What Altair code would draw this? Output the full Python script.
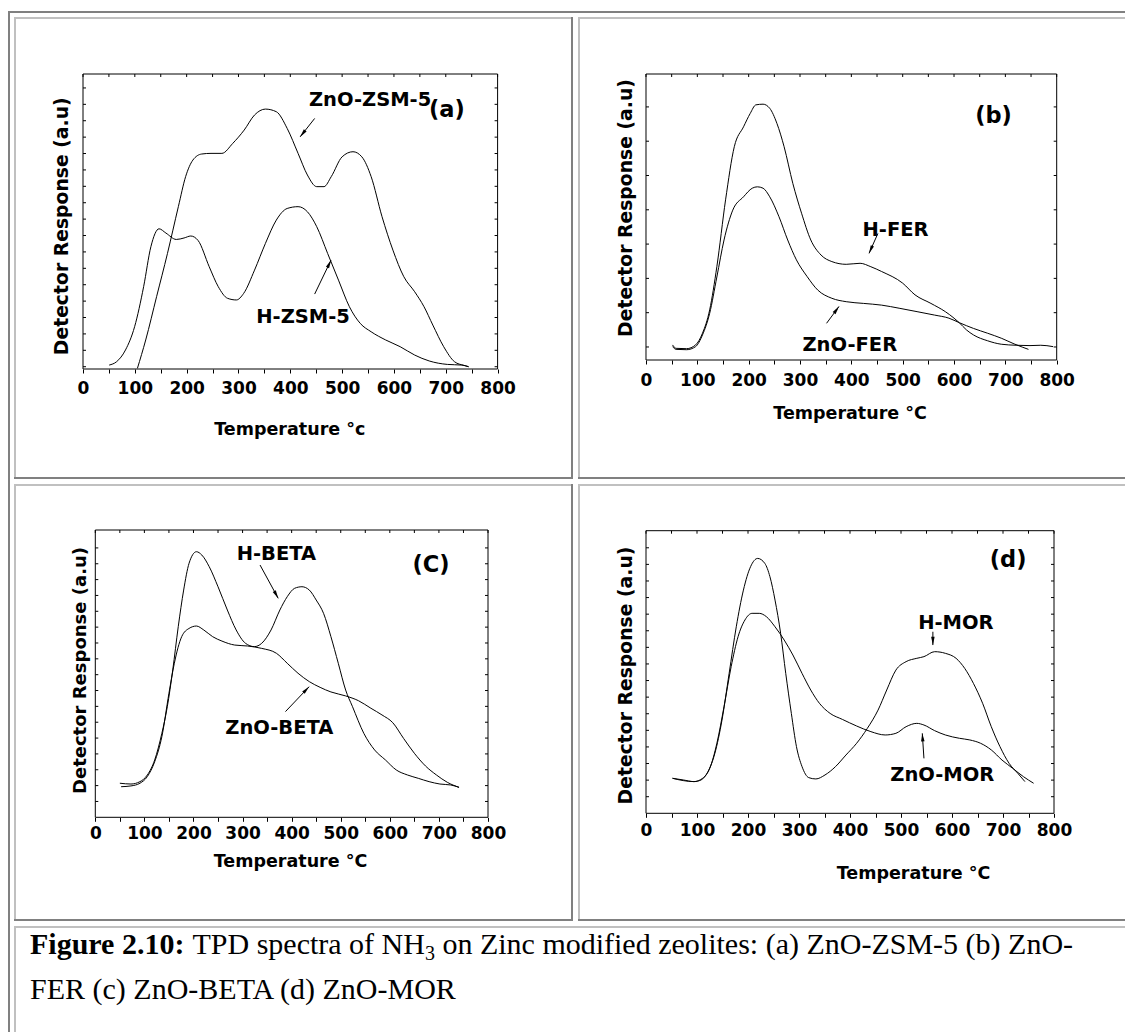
import math
import altair as alt
import pandas as pd

# ---------------- data ----------------
# (a) ZSM-5
A_ZNO_T = [105, 121, 142, 163, 184, 198, 212, 229, 247, 268, 289, 311, 331, 352, 373, 394, 415, 433, 451, 465,
           479, 500, 521, 538, 556, 577, 598, 619, 640, 658, 675, 696, 717, 735, 744]
A_ZNO_R = [-0.1, 1.63, 4.27, 6.91, 9.76, 11.59, 12.60, 12.97, 13.01, 13.01, 13.62, 14.43, 15.35, 15.71, 15.55,
           14.53, 13.01, 11.69, 10.98, 10.98, 11.59, 12.80, 13.11, 12.80, 11.59, 9.15, 7.11, 5.49, 4.57, 3.66,
           2.54, 1.22, 0.30, 0.08, 0.0]
A_H_T = [50.5, 64.6, 82, 99.6, 117, 131, 146.7, 160, 180, 195, 208, 222, 243.5, 261, 279, 296, 310, 331, 352,
         373, 394, 415, 433, 451, 472, 493, 514, 535, 556, 584, 612, 640, 668, 703, 731, 744]
A_H_R = [0.10, 0.30, 1.02, 2.44, 4.88, 7.32, 8.41, 8.15, 7.76, 7.85, 7.97, 7.70, 6.10, 4.88, 4.17, 4.07, 4.47,
         5.89, 7.52, 8.94, 9.65, 9.76, 9.45, 8.54, 6.91, 5.28, 3.66, 2.64, 2.13, 1.63, 1.22, 0.71, 0.35, 0.14,
         0.10, 0.0]

# (b) FER
B_H_T = [51.7, 58.6, 79, 96.6, 110, 124, 138, 155, 172, 190, 203, 214, 228, 241, 255, 269, 286, 303, 321, 341,
         362, 390, 417, 438, 459, 500, 524, 555, 583, 600, 610, 624, 638, 665.5, 692, 721, 748, 769, 793]
B_H_R = [0.06, -0.04, -0.05, 0.06, 0.40, 1.08, 2.34, 4.29, 5.84, 6.42, 6.81, 7.06, 7.08, 6.96, 6.52, 5.84, 4.77,
         3.90, 3.12, 2.68, 2.49, 2.41, 2.44, 2.34, 2.20, 1.86, 1.52, 1.27, 1.03, 0.84, 0.71, 0.50, 0.35, 0.18,
         0.08, 0.05, 0.04, 0.05, 0.01]
B_ZNO_T = [51.7, 58.6, 79, 96.6, 110, 124, 138, 152, 169, 190, 207, 217, 228, 241, 259, 276, 293, 314, 334.5,
           362, 390, 424, 459, 493, 528, 562, 590, 610, 638, 665.5, 693, 717, 734, 745]
B_ZNO_R = [0.01, -0.07, -0.08, 0.01, 0.35, 0.98, 2.04, 3.12, 3.99, 4.38, 4.63, 4.67, 4.63, 4.38, 3.80, 3.12,
           2.54, 2.05, 1.66, 1.42, 1.32, 1.27, 1.22, 1.13, 1.03, 0.93, 0.84, 0.71, 0.54, 0.40, 0.25, 0.09,
           -0.01, -0.07]

# (c) BETA
C_H_T = [50, 72.6, 91, 106, 121, 135.6, 146.7, 157.8, 169, 180, 191, 206, 217, 232, 250, 269, 287, 306, 324,
         339, 358, 376, 391, 406, 421, 436, 450, 465, 480, 495, 510, 524, 547, 569, 591, 613, 636, 658, 680,
         702, 724, 741]
C_H_R = [2.15, 2.10, 2.25, 2.67, 3.62, 5.30, 6.98, 9.30, 12.03, 14.34, 16.03, 16.76, 16.55, 15.82, 14.55,
         13.08, 11.82, 10.98, 10.77, 10.98, 11.82, 13.08, 13.92, 14.45, 14.55, 14.34, 13.71, 12.87, 11.40,
         9.72, 8.03, 6.98, 5.30, 4.25, 3.62, 2.99, 2.67, 2.46, 2.25, 2.10, 2.04, 1.89]
C_ZNO_T = [52.6, 72.6, 91, 106, 121, 135.6, 150, 161, 176, 191, 206, 221, 239, 258, 284, 310, 339, 369, 391,
           413, 436, 458, 480, 510, 536, 561.5, 584, 606, 628, 650, 672.6, 695, 717, 741]
C_ZNO_R = [1.93, 1.98, 2.15, 2.57, 3.51, 5.09, 7.82, 9.72, 11.40, 11.92, 12.07, 11.82, 11.40, 11.12, 10.87,
           10.81, 10.66, 10.35, 9.72, 9.09, 8.56, 8.20, 7.91, 7.66, 7.36, 6.88, 6.46, 5.97, 4.98, 4.04, 3.24,
           2.67, 2.21, 1.89]

# (d) MOR
D_H_T = [52, 73, 94, 108, 121.5, 135, 149, 163, 177, 191, 205, 219, 233, 243, 253, 264, 274, 285, 295, 306,
         319, 333, 351, 371.5, 392, 413, 434, 455, 472, 490, 510, 531, 545, 566, 587, 608, 625, 642, 660, 677,
         694, 712, 729, 743]
D_H_R = [2.11, 2.01, 1.91, 2.01, 2.51, 3.61, 5.62, 8.43, 11.24, 13.45, 14.86, 15.36, 15.06, 14.26, 12.85,
         10.84, 8.43, 6.02, 4.02, 2.81, 2.15, 2.07, 2.31, 2.81, 3.51, 4.22, 5.12, 6.22, 7.43, 8.63, 9.14, 9.34,
         9.44, 9.74, 9.64, 9.34, 8.73, 7.83, 6.63, 5.22, 4.02, 3.01, 2.41, 1.91]
D_ZNO_T = [52, 73, 94, 111, 125, 139, 153, 167, 180.5, 194, 208, 222, 236, 253, 271, 288, 306, 323, 340, 361,
           385, 413, 441, 469, 490, 510, 531, 545, 566, 587, 614.6, 635, 656, 677, 698, 719, 740, 760]
D_ZNO_R = [2.11, 1.97, 1.91, 2.11, 2.71, 4.22, 6.43, 8.84, 10.64, 11.65, 12.05, 12.05, 11.85, 11.24, 10.44,
           9.54, 8.43, 7.43, 6.63, 6.02, 5.66, 5.26, 4.92, 4.72, 4.82, 5.22, 5.42, 5.32, 4.98, 4.72, 4.52,
           4.42, 4.22, 3.82, 3.21, 2.71, 2.21, 1.81]

# annotation labels: text, T, R
A_LABELS = ["ZnO-ZSM-5", "H-ZSM-5"]; A_LABEL_T = [554, 424.6]; A_LABEL_R = [16.26, 3.05]
B_LABELS = ["H-FER", "ZnO-FER"];     B_LABEL_T = [486, 397];    B_LABEL_R = [3.41, 0.06]
C_LABELS = ["H-BETA", "ZnO-BETA"];   C_LABEL_T = [369, 375];    C_LABEL_R = [16.61, 5.62]
D_LABELS = ["H-MOR", "ZnO-MOR"];     D_LABEL_T = [607.6, 581];  D_LABEL_R = [11.45, 2.31]
TAGS = ["(a)", "(b)", "(C)", "(d)"]
TAG_T = [702, 677, 684, 710]
TAG_R = [15.65, 6.74, 15.92, 15.26]

# arrows: tail (T0, R0) -> head (T1, R1)
A_ARROWS = [(447, 15.14, 419, 14.02), (447, 4.43, 478.6, 6.50)]
B_ARROWS = [(451.7, 3.31, 434.5, 2.73), (351.7, 0.69, 375.9, 1.18)]
C_ARROWS = [(335.6, 15.92, 372.6, 13.82), (387.4, 6.67, 435.6, 8.24)]
D_ARROWS = [(562.5, 10.94, 562.5, 10.14), (545, 3.31, 541.7, 4.82)]

X_TICKS = list(range(0, 801, 50))

# ---------------- layout / style ----------------
W, H = 1125, 1032
SANS = "DejaVu Sans"
SERIF = "Liberation Serif"
DARK, LIGHT = "#808080", "#c0c0c0"
HEAD = "M0,-1L0.42,1L-0.42,1Z"

PANELS = [
    dict(xr=[83, 497.6], yr=[369, 74], ydom=[-0.14, 17.85], yticks=list(range(0, 18)),
         series=[("ZnO-ZSM-5", A_ZNO_T, A_ZNO_R), ("H-ZSM-5", A_H_T, A_H_R)],
         labels=(A_LABELS, A_LABEL_T, A_LABEL_R), arrows=A_ARROWS, tag=0,
         xtitle="Temperature °c", lp=7.7, xtx=289.3, xty=65, ytx=-15.5, yty=225.8, yts=18.8),
    dict(xr=[646, 1056.7], yr=[360, 74], ydom=[-0.38, 7.96], yticks=list(range(0, 8)),
         series=[("H-FER", B_H_T, B_H_R), ("ZnO-FER", B_ZNO_T, B_ZNO_R)],
         labels=(B_LABELS, B_LABEL_T, B_LABEL_R), arrows=B_ARROWS, tag=1,
         xtitle="Temperature °C", lp=8, xtx=849.6, xty=58, ytx=-14.3, yty=207.5, yts=18.8),
    dict(xr=[95.3, 488], yr=[817.3, 530], ydom=[0, 18.13], yticks=list(range(1, 18)),
         series=[("H-BETA", C_H_T, C_H_R), ("ZnO-BETA", C_ZNO_T, C_ZNO_R)],
         labels=(C_LABELS, C_LABEL_T, C_LABEL_R), arrows=C_ARROWS, tag=2,
         xtitle="Temperature °C", lp=4.4, xtx=290, xty=49.4, ytx=-10, yty=670, yts=18),
    dict(xr=[646, 1054], yr=[813.3, 530.7], ydom=[0, 17.03], yticks=list(range(1, 17)),
         series=[("H-MOR", D_H_T, D_H_R), ("ZnO-MOR", D_ZNO_T, D_ZNO_R)],
         labels=(D_LABELS, D_LABEL_T, D_LABEL_R), arrows=D_ARROWS, tag=3,
         xtitle="Temperature °C", lp=4.7, xtx=913, xty=64.7, ytx=-14.3, yty=675, yts=18.8),
]


def panel_layers(p):
    xs = alt.Scale(domain=[0, 800], range=p["xr"], nice=False, zero=False)
    ys = alt.Scale(domain=p["ydom"], range=p["yr"], nice=False, zero=False)
    y0, y1 = p["ydom"]
    layers = []

    rows = []
    for name, T, R in p["series"]:
        rows += [{"series": name, "T": t, "R": r} for t, r in zip(T, R)]
    xaxis = alt.Axis(orient="bottom", offset=p["yr"][0] - H, values=X_TICKS,
                     labelExpr="datum.value % 100 == 0 ? datum.label : ''",
                     tickSize=4, tickColor="black", tickWidth=1, domain=False, grid=False,
                     labelFont=SANS, labelFontWeight="bold", labelFontSize=17, labelColor="black",
                     labelPadding=p["lp"], labelFlush=False, labelOverlap=False,
                     title=p["xtitle"], titleFont=SANS, titleFontWeight="bold", titleFontSize=17.5,
                     titleColor="black", titleX=p["xtx"], titleY=p["xty"], titleBaseline="alphabetic",
                     titleAlign="center")
    yaxis = alt.Axis(orient="left", offset=-p["xr"][0], ticks=False, labels=False, domain=False,
                     grid=False, title="Detector Response (a.u)", titleFont=SANS, titleFontWeight="bold",
                     titleFontSize=p["yts"], titleColor="black", titleX=p["ytx"], titleY=p["yty"],
                     titleAngle=270, titleBaseline="alphabetic", titleAlign="center")
    layers.append(
        alt.Chart(pd.DataFrame(rows)).mark_line(color="black", strokeWidth=1, interpolate="monotone").encode(
            x=alt.X("T:Q", scale=xs, axis=xaxis),
            y=alt.Y("R:Q", scale=ys, axis=yaxis),
            detail="series:N",
        )
    )

    one = pd.DataFrame({"z": [0]})
    layers.append(
        alt.Chart(one).mark_rect(fillOpacity=0, stroke="black", strokeWidth=1).encode(
            x=alt.XDatum(0, scale=xs, axis=None), x2=alt.X2Datum(800),
            y=alt.YDatum(y0, scale=ys, axis=None), y2=alt.Y2Datum(y1),
        )
    )

    yt = pd.DataFrame({"v": p["yticks"]})
    layers.append(
        alt.Chart(yt).mark_rule(color="black", strokeWidth=1, x2Offset=3).encode(
            x=alt.XDatum(0, scale=xs, axis=None), x2=alt.X2Datum(0),
            y=alt.Y("v:Q", scale=ys, axis=None),
        )
    )
    layers.append(
        alt.Chart(yt).mark_rule(color="black", strokeWidth=1, x2Offset=-3).encode(
            x=alt.XDatum(800, scale=xs, axis=None), x2=alt.X2Datum(800),
            y=alt.Y("v:Q", scale=ys, axis=None),
        )
    )
    xt = pd.DataFrame({"v": X_TICKS})
    layers.append(
        alt.Chart(xt).mark_rule(color="black", strokeWidth=1, y2Offset=3).encode(
            x=alt.X("v:Q", scale=xs, axis=None),
            y=alt.YDatum(y1, scale=ys, axis=None), y2=alt.Y2Datum(y1),
        )
    )

    names, LT, LR = p["labels"]
    layers.append(
        alt.Chart(pd.DataFrame({"text": names, "T": LT, "R": LR})).mark_text(
            font=SANS, fontWeight="bold", fontSize=19.5, color="black", align="center", baseline="middle"
        ).encode(x=alt.X("T:Q", scale=xs, axis=None), y=alt.Y("R:Q", scale=ys, axis=None), text="text:N")
    )
    k = p["tag"]
    layers.append(
        alt.Chart(pd.DataFrame({"text": [TAGS[k]], "T": [TAG_T[k]], "R": [TAG_R[k]]})).mark_text(
            font=SANS, fontWeight="bold", fontSize=22.5, color="black", align="center", baseline="middle"
        ).encode(x=alt.X("T:Q", scale=xs, axis=None), y=alt.Y("R:Q", scale=ys, axis=None), text="text:N")
    )

    pxT = (p["xr"][1] - p["xr"][0]) / 800.0
    pxR = (p["yr"][0] - p["yr"][1]) / (y1 - y0)
    arows = []
    for T0, R0, T1, R1 in p["arrows"]:
        dx, dy = (T1 - T0) * pxT, -(R1 - R0) * pxR
        L = math.hypot(dx, dy)
        ux, uy = dx / L, dy / L
        ang = math.degrees(math.atan2(ux, -uy)) % 360
        arows.append({"T0": T0, "R0": R0, "T1": T1, "R1": R1,
                      "hT": T1 - 4 * ux / pxT, "hR": R1 + 4 * uy / pxR, "ang": ang})
    adf = pd.DataFrame(arows)
    layers.append(
        alt.Chart(adf).mark_rule(color="black", strokeWidth=1).encode(
            x=alt.X("T0:Q", scale=xs, axis=None), x2="T1:Q",
            y=alt.Y("R0:Q", scale=ys, axis=None), y2="R1:Q",
        )
    )
    layers.append(
        alt.Chart(adf).mark_point(shape=HEAD, filled=True, color="black", size=70, opacity=1,
                                  strokeWidth=0).encode(
            x=alt.X("hT:Q", scale=xs, axis=None), y=alt.Y("hR:Q", scale=ys, axis=None),
            angle=alt.Angle("ang:Q", scale=None),
        )
    )
    return layers


# table borders of the page (decoration)
BORDERS = [
    (9, 9, 11, H, DARK), (8, W, 12, 12, DARK),
    (14, 573, 18, 18, LIGHT), (15, 15, 17, 479, LIGHT), (572, 572, 17, 479, DARK), (14, 573, 478, 478, DARK),
    (578, W, 18, 18, LIGHT), (579, 579, 17, 479, LIGHT), (578, W, 478, 478, DARK),
    (14, 573, 485, 485, LIGHT), (15, 15, 484, 921, LIGHT), (572, 572, 484, 921, DARK), (14, 573, 920, 920, DARK),
    (578, W, 485, 485, LIGHT), (579, 579, 484, 921, LIGHT), (578, W, 920, 920, DARK),
    (14, W, 927, 927, LIGHT), (15, 15, 926, H, LIGHT),
]
bdf = pd.DataFrame(BORDERS, columns=["x", "x2", "y", "y2", "c"])
border_layer = alt.Chart(bdf).mark_rule(strokeWidth=2).encode(
    x=alt.X("x:Q", scale=None, axis=None), x2="x2:Q",
    y=alt.Y("y:Q", scale=None, axis=None), y2="y2:Q",
    color=alt.Color("c:N", scale=None, legend=None),
)

CAPTION = [
    ("Figure 2.10:", 30, 954, 30, "bold"),
    ("TPD spectra of NH", 192.5, 954, 30, "normal"),
    ("3", 424.9, 960, 20, "normal"),
    ("on Zinc modified zeolites: (a) ZnO-ZSM-5 (b) ZnO-", 442.4, 954, 30, "normal"),
    ("FER (c) ZnO-BETA (d) ZnO-MOR", 30, 999, 30, "normal"),
]
one = pd.DataFrame({"z": [0]})
caption_layers = [
    alt.Chart(one).mark_text(text=t, font=SERIF, fontSize=s, fontWeight=w, color="black",
                             align="left", baseline="alphabetic").encode(x=alt.value(x), y=alt.value(y))
    for t, x, y, s, w in CAPTION
]

layers = [border_layer]
for p in PANELS:
    layers += panel_layers(p)
layers += caption_layers

chart = alt.layer(*layers).resolve_scale(x="independent", y="independent").properties(
    width=W, height=H, autosize=alt.AutoSizeParams(type="none"), padding=0, background="white"
).configure_view(stroke=None)

chart.save("out.html", embed_options={"renderer": "svg", "actions": False})
